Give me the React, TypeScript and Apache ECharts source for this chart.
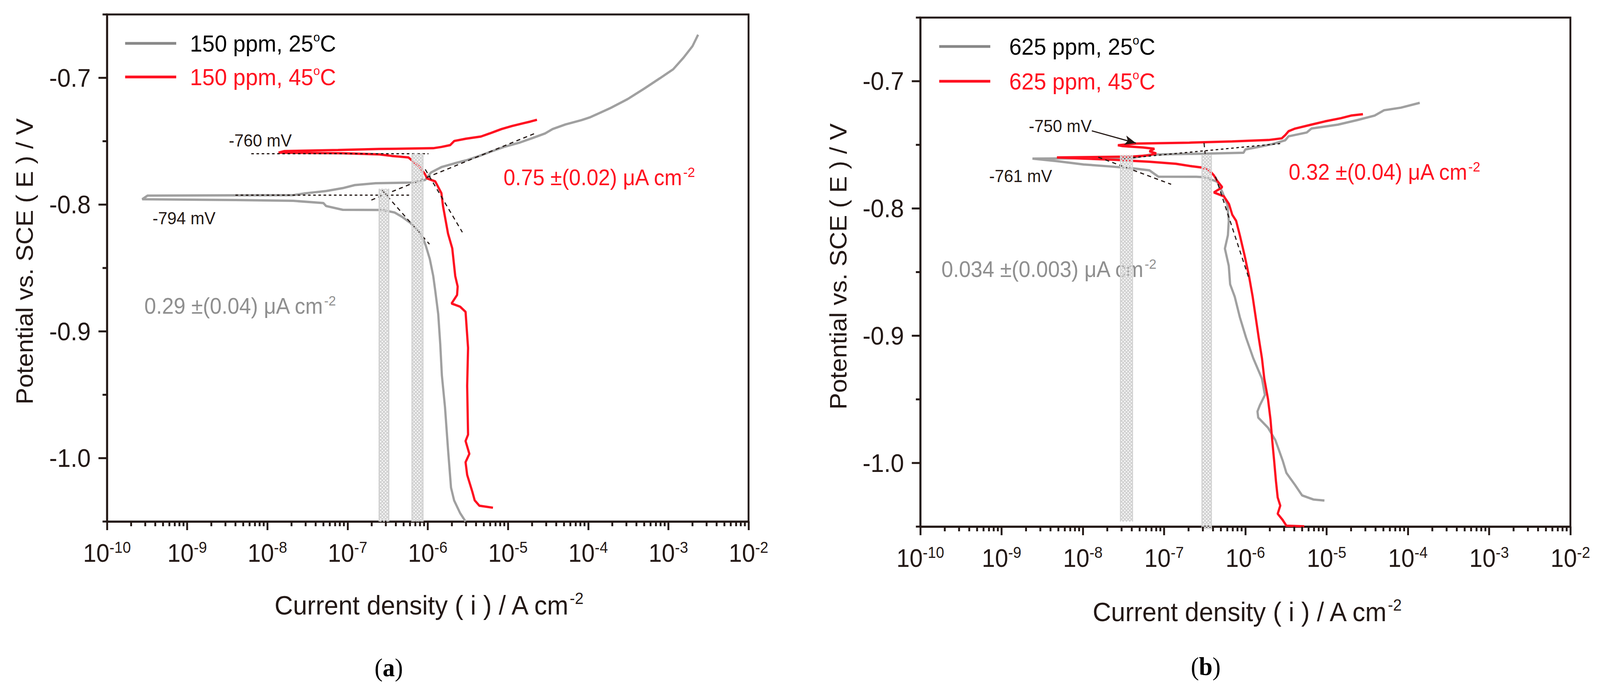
import { useEffect, useRef } from "react";
import * as echarts from "echarts";

const FONT = "'Liberation Sans', Arial, Helvetica, sans-serif";
const SERIF = "'Liberation Serif', 'Times New Roman', serif";
const INK = "#231815";
const GRAY = "#a0a0a0";
const RED = "#ff1020";
const TEXT_GRAY = "#8f8f8f";

const WIDTH = 4322;
const HEIGHT = 1779;

const X_MIN = 1e-10;
const X_MAX = 1e-2;
const Y_MIN = -1.05;
const Y_MAX = -0.65;

// series names
const A25 = "150 ppm, 25°C";
const A45 = "150 ppm, 45°C";
const B25 = "625 ppm, 25°C";
const B45 = "625 ppm, 45°C";

// [current density (A cm-2), potential (V vs SCE)] in sweep order
const a25 = [
  [2.96e-6, -1.05], [2.53e-6, -1.0433], [2.13e-6, -1.0333], [1.95e-6, -1.0233], [1.79e-6, -0.9932],
  [1.64e-6, -0.9598], [1.5e-6, -0.9348], [1.43e-6, -0.9097], [1.35e-6, -0.8863], [1.24e-6, -0.868],
  [1.17e-6, -0.8563], [1.06e-6, -0.8429], [9.5e-7, -0.8329], [8.9e-7, -0.8279], [7.7e-7, -0.8212],
  [6.1e-7, -0.8145], [4.75e-7, -0.8095], [3.85e-7, -0.8062], [2.7e-7, -0.8042], [8.7e-8, -0.8041],
  [5.4e-8, -0.8011], [5.0e-8, -0.7988], [2.1e-8, -0.797], [4.0e-9, -0.7964], [2.75e-10, -0.7958],
  [3.2e-10, -0.7929], [2.1e-8, -0.7925], [2.95e-8, -0.7911], [5.4e-8, -0.7893], [8.7e-8, -0.787],
  [1.23e-7, -0.7846], [2.24e-7, -0.7831], [6.5e-7, -0.7826], [9.3e-7, -0.7805], [1.1e-6, -0.7746],
  [1.48e-6, -0.7704], [2.14e-6, -0.7675], [3.0e-6, -0.7651], [4.4e-6, -0.7616], [6.2e-6, -0.7581],
  [8.9e-6, -0.7545], [1.41e-5, -0.751], [2.04e-5, -0.7474], [2.9e-5, -0.7439], [3.6e-5, -0.7404],
  [5.2e-5, -0.7368], [8.3e-5, -0.7333], [1.07e-4, -0.731], [1.9e-4, -0.7238], [3.1e-4, -0.7168],
  [5.0e-4, -0.7085], [7.9e-4, -0.7002], [1.15e-3, -0.6932], [1.55e-3, -0.684], [2.0e-3, -0.675],
  [2.35e-3, -0.666],
];

const a45 = [
  [6.5e-6, -1.0391], [4.4e-6, -1.0375], [3.85e-6, -1.0333], [3.6e-6, -1.0266], [3.1e-6, -1.0132],
  [2.96e-6, -1.0032], [3.3e-6, -0.9966], [2.96e-6, -0.9865], [3.18e-6, -0.9815], [3.1e-6, -0.943],
  [3.18e-6, -0.913], [2.96e-6, -0.8846], [2.53e-6, -0.8805], [1.98e-6, -0.878], [2.32e-6, -0.8713],
  [2.36e-6, -0.8646], [2.2e-6, -0.8563], [2.02e-6, -0.8345], [1.79e-6, -0.8229], [1.55e-6, -0.8012],
  [1.48e-6, -0.791], [1.24e-6, -0.7817], [9.8e-7, -0.7793], [9.2e-7, -0.7758], [7.8e-7, -0.7699],
  [5.75e-7, -0.7628], [3.55e-7, -0.7616], [2.5e-7, -0.7604], [8.7e-8, -0.7595], [1.38e-8, -0.759],
  [1.62e-8, -0.7578], [7.6e-8, -0.7569], [2.5e-7, -0.7561], [1.17e-6, -0.7555], [1.48e-6, -0.7545],
  [1.9e-6, -0.7531], [2.14e-6, -0.7498], [3.0e-6, -0.748], [4.6e-6, -0.7463], [5.9e-6, -0.7439],
  [8.3e-6, -0.7404], [1.12e-5, -0.738], [1.58e-5, -0.7357], [1.9e-5, -0.7345], [2.3e-5, -0.7331],
];

const b25 = [
  [9.4e-6, -1.0295], [6.9e-6, -1.0287], [5.0e-6, -1.0255], [4.1e-6, -1.0174], [3.2e-6, -1.0078],
  [2.88e-6, -0.9981], [2.34e-6, -0.982], [1.9e-6, -0.9723], [1.44e-6, -0.9643], [1.41e-6, -0.9595],
  [1.51e-6, -0.9546], [1.74e-6, -0.9466], [1.6e-6, -0.9337], [1.25e-6, -0.9176], [1.02e-6, -0.9015],
  [8.55e-7, -0.8854], [7.4e-7, -0.8693], [6.5e-7, -0.8596], [6.25e-7, -0.8451], [5.6e-7, -0.8315],
  [6.1e-7, -0.821], [6.25e-7, -0.8097], [6.0e-7, -0.797], [5.2e-7, -0.787], [4.5e-7, -0.779],
  [3.2e-7, -0.7755], [2.5e-7, -0.7751], [8.5e-8, -0.775], [6.6e-8, -0.77], [4.2e-8, -0.7685],
  [2.2e-8, -0.767], [1.02e-8, -0.7654], [4.8e-9, -0.7628], [2.4e-9, -0.7608],
  [4.1e-8, -0.7603], [6.6e-8, -0.7577], [3.2e-7, -0.7569], [9.5e-7, -0.7562], [1.0e-6, -0.7536],
  [1.46e-6, -0.7516], [2.12e-6, -0.7495], [3.1e-6, -0.7464], [3.4e-6, -0.7433], [5.7e-6, -0.7403],
  [6.5e-6, -0.7372], [1.38e-5, -0.7341], [2.4e-5, -0.7305], [3.9e-5, -0.727], [5.1e-5, -0.7228],
  [8.2e-5, -0.7208], [1.4e-4, -0.717],
];

const b45 = [
  [5.3e-6, -1.0498], [3.2e-6, -1.0493], [2.88e-6, -1.0448], [2.5e-6, -1.0399], [2.69e-6, -1.0335],
  [2.5e-6, -1.0271], [2.38e-6, -1.0142], [2.26e-6, -0.9981], [2.14e-6, -0.982], [2.04e-6, -0.9659],
  [1.9e-6, -0.9498], [1.71e-6, -0.9337], [1.6e-6, -0.9176], [1.46e-6, -0.9015], [1.34e-6, -0.8854],
  [1.23e-6, -0.8693], [1.11e-6, -0.8532], [9.8e-7, -0.8371], [8.55e-7, -0.821], [7.7e-7, -0.8097],
  [6.9e-7, -0.8049], [6.3e-7, -0.7966], [5.45e-7, -0.7905], [4.1e-7, -0.7874], [5.2e-7, -0.7833],
  [4.5e-7, -0.7782], [4.1e-7, -0.774], [3.6e-7, -0.77], [2.96e-7, -0.7679], [2.23e-7, -0.7669],
  [1.4e-7, -0.7649], [6.6e-8, -0.7633], [4.1e-8, -0.7626], [2.6e-8, -0.7618], [1.02e-8, -0.7608],
  [4.8e-9, -0.7599],
  [4.1e-8, -0.7592], [6.6e-8, -0.7582], [8.0e-8, -0.7567], [6.6e-8, -0.7551], [7.6e-8, -0.7531],
  [5.5e-8, -0.7521], [3.1e-8, -0.751], [2.7e-8, -0.7503], [4.5e-8, -0.749], [2.04e-7, -0.7483],
  [6.9e-7, -0.7473], [1.93e-6, -0.7462], [2.8e-6, -0.7449], [3.1e-6, -0.7423], [3.4e-6, -0.7393],
  [4.1e-6, -0.7372], [6.5e-6, -0.7341], [9.5e-6, -0.7316], [1.51e-5, -0.729], [2.0e-5, -0.727],
  [2.8e-5, -0.7259],
];

// Tafel extrapolation lines, [[i1, E1], [i2, E2]]
const aDotted = [
  [[6.3e-9, -0.7598], [1.02e-6, -0.7598]],
  [[4.0e-9, -0.7925], [6.5e-7, -0.7925]],
];
const aDashed = [
  [[1.98e-7, -0.7964], [2.15e-5, -0.7439]],
  [[2.7e-7, -0.7887], [1.05e-6, -0.8312]],
  [[9.3e-7, -0.7722], [2.7e-6, -0.8218]],
];
const bDotted = [[[3.1e-8, -0.7608], [2.7e-6, -0.749]]];
const bDashed = [
  [[1.55e-8, -0.7597], [1.22e-7, -0.781]],
  [[3.1e-7, -0.7485], [3.2e-7, -0.757]],
  [[4.3e-7, -0.775], [1.12e-6, -0.856]],
];
const bArrow = [[1.29e-8, -0.739], [4.5e-8, -0.7486]];

// icorr bands: [i from, i to, E bottom, E top]
const aBands = [
  [2.45e-7, 3.3e-7, -1.05, -0.7875],
  [6.3e-7, 8.8e-7, -1.05, -0.7598],
];
const bBands = [
  [2.88e-8, 4.12e-8, -1.046, -0.758],
  [2.9e-7, 3.85e-7, -1.052, -0.758],
];

// axis ticks
const xDecades = [-10, -9, -8, -7, -6, -5, -4, -3];
const xMinorSteps = [2, 3, 4, 5, 6, 7, 8, 9];
const yTicks = [-1.05, -1.0, -0.95, -0.9, -0.85, -0.8, -0.75, -0.7, -0.65];

const isMajorY = (v: number) =>
  Math.abs(v * 10 - Math.round(v * 10)) < 1e-6 && v > Y_MIN + 1e-6 && v < Y_MAX - 1e-6;

const xMinorTicks = xDecades.flatMap((d) => xMinorSteps.map((m) => [m * Math.pow(10, d), Y_MIN]));

function tickSeries(idx: number) {
  return [
    {
      type: "custom",
      xAxisIndex: idx,
      yAxisIndex: idx,
      silent: true,
      clip: false,
      z: 10,
      data: xMinorTicks,
      renderItem: (_p: any, api: any) => {
        const p = api.coord([api.value(0), api.value(1)]);
        return {
          type: "line",
          shape: { x1: p[0], y1: p[1], x2: p[0], y2: p[1] + 12 },
          style: { stroke: INK, lineWidth: 5 },
        };
      },
    },
    {
      type: "custom",
      xAxisIndex: idx,
      yAxisIndex: idx,
      silent: true,
      clip: false,
      z: 10,
      data: yTicks.map((v) => [X_MIN, v]),
      renderItem: (_p: any, api: any) => {
        const v = api.value(1);
        const p = api.coord([api.value(0), v]);
        const len = isMajorY(v) ? 23 : 12;
        return {
          type: "line",
          shape: { x1: p[0] - len, y1: p[1], x2: p[0], y2: p[1] },
          style: { stroke: INK, lineWidth: 5 },
        };
      },
    },
  ];
}

function bandSeries(idx: number, bands: number[][]) {
  return {
    type: "custom",
    xAxisIndex: idx,
    yAxisIndex: idx,
    silent: true,
    clip: false,
    z: 6,
    encode: { x: [0, 1], y: [2, 3] },
    data: bands,
    renderItem: (_p: any, api: any) => {
      const tl = api.coord([api.value(0), api.value(3)]);
      const br = api.coord([api.value(1), api.value(2)]);
      const x = tl[0];
      const y = tl[1];
      const w = br[0] - tl[0];
      const h = br[1] - tl[1];
      const s = 9;
      const children: any[] = [];
      const hatch = { stroke: "#d2d2d2", lineWidth: 3 };
      for (let c = -w; c < h; c += s) {
        const x0 = Math.max(0, -c);
        const x1 = Math.min(w, h - c);
        if (x1 > x0)
          children.push({ type: "line", shape: { x1: x + x0, y1: y + x0 + c, x2: x + x1, y2: y + x1 + c }, style: hatch });
      }
      for (let c = 0; c < h + w; c += s) {
        const x0 = Math.max(0, c - h);
        const x1 = Math.min(w, c);
        if (x1 > x0)
          children.push({ type: "line", shape: { x1: x + x0, y1: y + c - x0, x2: x + x1, y2: y + c - x1 }, style: hatch });
      }
      children.push({ type: "line", shape: { x1: x + 1, y1: y, x2: x + 1, y2: y + h }, style: hatch });
      children.push({ type: "line", shape: { x1: x + w - 1, y1: y, x2: x + w - 1, y2: y + h }, style: hatch });
      return { type: "group", children };
    },
  };
}

function markLines(dotted: number[][][], dashed: number[][][], arrow?: number[][]) {
  const data: any[] = [];
  dotted.forEach(([p, q]) => data.push([{ coord: p, lineStyle: { type: [7, 7] } }, { coord: q }]));
  dashed.forEach(([p, q]) => data.push([{ coord: p, lineStyle: { type: [11, 9] } }, { coord: q }]));
  if (arrow) {
    data.push([
      { coord: arrow[0], symbol: "none", lineStyle: { type: "solid", width: 3 } },
      { coord: arrow[1], symbol: "arrow", symbolSize: [18, 30] },
    ]);
  }
  return {
    silent: true,
    animation: false,
    symbol: "none",
    label: { show: false },
    lineStyle: { color: INK, width: 3 },
    data,
  };
}

function lineSeries(idx: number, name: string, color: string, data: number[][], extra: any = {}) {
  return {
    type: "line",
    name,
    xAxisIndex: idx,
    yAxisIndex: idx,
    data,
    showSymbol: false,
    symbol: "none",
    color,
    lineStyle: { color, width: 6 },
    z: 3,
    ...extra,
  };
}

function legend(left: number, top: number, gap: number, textPad: number, names: string[]) {
  return {
    orient: "vertical",
    left,
    top,
    padding: 0,
    itemGap: gap,
    itemWidth: 138,
    itemHeight: 7,
    icon: "rect",
    selectedMode: false,
    data: [{ name: names[0], itemStyle: { color: "#888888" } }, { name: names[1] }],
    formatter: (name: string) => {
      const base = name.replace("°C", "");
      return name.includes("45") ? `{r|${base}}{rs|o}{r|C}` : `{k|${base}}{ks|o}{k|C}`;
    },
    textStyle: {
      padding: [0, 0, 0, textPad],
      rich: {
        k: { fontSize: 60, lineHeight: 64, color: "#000", fontFamily: FONT },
        ks: { fontSize: 32, lineHeight: 30, verticalAlign: "top", color: "#000", fontFamily: FONT },
        r: { fontSize: 60, lineHeight: 64, color: RED, fontFamily: FONT },
        rs: { fontSize: 32, lineHeight: 30, verticalAlign: "top", color: RED, fontFamily: FONT },
      },
    },
  };
}

function txt(x: number, y: number, text: string, rich: any, align = "left", rotation = 0) {
  return {
    type: "text",
    x,
    y,
    rotation,
    silent: true,
    style: { text, rich, align, verticalAlign: "middle", textAlign: align, textVerticalAlign: "middle" },
  };
}

function plain(x: number, y: number, text: string, size: number, color: string) {
  return txt(x, y, `{m|${text}}`, { m: { fontSize: size, lineHeight: size + 6, fill: color, fontFamily: FONT } });
}

function icorr(x: number, y: number, text: string, color: string) {
  return txt(x, y, `{m|${text}}{s|-2}`, {
    m: { fontSize: 57, lineHeight: 64, fill: color, fontFamily: FONT },
    s: { fontSize: 36, lineHeight: 14, verticalAlign: "top", fill: color, fontFamily: FONT },
  });
}

function yTitle(x: number, y: number) {
  return txt(
    x,
    y,
    "{m|Potential vs. SCE ( E ) / V}",
    { m: { fontSize: 64, lineHeight: 70, fill: INK, fontFamily: FONT } },
    "center",
    Math.PI / 2
  );
}

function xTitle(x: number, y: number) {
  return txt(
    x,
    y,
    "{m|Current density ( i ) / A cm}{s|-2}",
    {
      m: { fontSize: 69, lineHeight: 76, fill: INK, fontFamily: FONT },
      s: { fontSize: 42, lineHeight: 26, verticalAlign: "top", fill: INK, fontFamily: FONT },
    },
    "center"
  );
}

function panelLabel(x: number, y: number, letter: string) {
  return txt(
    x,
    y,
    `{p|(}{b|${letter}}{p|)}`,
    {
      p: { fontSize: 66, lineHeight: 74, fill: "#000", fontFamily: SERIF },
      b: { fontSize: 66, lineHeight: 74, fill: "#000", fontFamily: SERIF, fontWeight: "bold" },
    },
    "center"
  );
}

function xAxis(idx: number) {
  return {
    type: "log",
    logBase: 10,
    gridIndex: idx,
    min: X_MIN,
    max: X_MAX,
    splitNumber: 8,
    axisLine: { show: true, onZero: false, lineStyle: { color: INK, width: 5 } },
    axisTick: { show: true, length: 22, lineStyle: { color: INK, width: 5 } },
    splitLine: { show: false },
    axisLabel: {
      margin: 46,
      formatter: (v: number) => `{b|10}{s|${Math.round(Math.log10(v))}}`,
      rich: {
        b: { fontSize: 64, lineHeight: 70, color: INK, fontFamily: FONT },
        s: { fontSize: 40, lineHeight: 16, verticalAlign: "top", color: INK, fontFamily: FONT },
      },
    },
  };
}

function yAxis(idx: number) {
  return {
    type: "value",
    gridIndex: idx,
    min: Y_MIN,
    max: Y_MAX,
    interval: 0.05,
    axisLine: { show: true, onZero: false, lineStyle: { color: INK, width: 5 } },
    axisTick: { show: false },
    splitLine: { show: false },
    axisLabel: {
      margin: 44,
      fontSize: 65,
      color: INK,
      fontFamily: FONT,
      formatter: (v: number) => (isMajorY(v) ? v.toFixed(1) : ""),
    },
  };
}

export default function App() {
  const ref = useRef<HTMLDivElement>(null);
  // the browser caps the viewport width below the figure width, so squeeze horizontally to fit
  const sx = typeof window !== "undefined" ? Math.min(1, window.innerWidth / WIDTH) : 1;

  useEffect(() => {
    if (!ref.current) return;
    const chart = echarts.init(ref.current, undefined, { renderer: "svg" });
    chart.setOption({
      animation: false,
      backgroundColor: "#ffffff",
      textStyle: { fontFamily: FONT },
      grid: [
        { left: 289, top: 37, width: 1733, height: 1298, show: true, borderColor: INK, borderWidth: 5 },
        { left: 2486, top: 45, width: 1756, height: 1303, show: true, borderColor: INK, borderWidth: 5 },
      ],
      xAxis: [xAxis(0), xAxis(1)],
      yAxis: [yAxis(0), yAxis(1)],
      legend: [legend(338, 79, 24, 32, [A25, A45]), legend(2537, 87, 27, 46, [B25, B45])],
      series: [
        lineSeries(0, A25, GRAY, a25, { markLine: markLines(aDotted, aDashed) }),
        lineSeries(0, A45, RED, a45),
        bandSeries(0, aBands),
        lineSeries(1, B25, GRAY, b25, { markLine: markLines(bDotted, bDashed, bArrow) }),
        lineSeries(1, B45, RED, b45),
        bandSeries(1, bBands),
        ...tickSeries(0),
        ...tickSeries(1),
      ],
      graphic: [
        plain(618, 359, "-760 mV", 45, INK),
        plain(412, 558, "-794 mV", 45, INK),
        icorr(1360, 454, "0.75 ±(0.02) μA cm", RED),
        icorr(390, 783, "0.29 ±(0.04) μA cm", TEXT_GRAY),
        yTitle(67, 669),
        xTitle(1157, 1549),
        panelLabel(1050, 1709, "a"),
        plain(2779, 322, "-750 mV", 45, INK),
        plain(2672, 450, "-761 mV", 45, INK),
        icorr(3481, 440, "0.32 ±(0.04) μA cm", RED),
        icorr(2543, 689, "0.034 ±(0.003) μA cm", TEXT_GRAY),
        yTitle(2264, 682),
        xTitle(3367, 1566),
        panelLabel(3257, 1706, "b"),
      ],
    });
    return () => chart.dispose();
  }, []);

  return (
    <div
      ref={ref}
      style={{
        position: "absolute",
        left: 0,
        top: 0,
        width: WIDTH,
        height: HEIGHT,
        background: "#fff",
        transform: `scaleX(${sx})`,
        transformOrigin: "0 0",
      }}
    />
  );
}
